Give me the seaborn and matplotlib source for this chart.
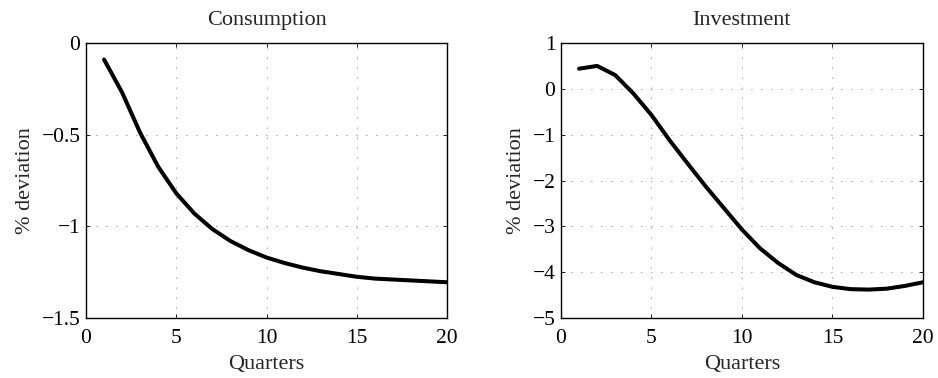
import matplotlib
matplotlib.use("Agg")
import matplotlib.pyplot as plt
import seaborn as sns
import pandas as pd

quarters = list(range(1, 21))
consumption = [-0.09, -0.27, -0.49, -0.675, -0.82, -0.93, -1.015, -1.08, -1.13, -1.17,
               -1.20, -1.225, -1.245, -1.26, -1.275, -1.285, -1.29, -1.295, -1.30, -1.305]
investment = [0.44, 0.50, 0.30, -0.10, -0.57, -1.12, -1.63, -2.13, -2.60, -3.07,
              -3.48, -3.80, -4.06, -4.22, -4.32, -4.37, -4.38, -4.36, -4.30, -4.22]
titles = ["Consumption", "Investment"]
xticks = [0, 5, 10, 15, 20]
yticks_c = [0, -0.5, -1, -1.5]
yticks_i = [1, 0, -1, -2, -3, -4, -5]

sns.set_theme(style="white")
plt.rcParams['font.family'] = ['Liberation Serif', 'DejaVu Serif']

fig = plt.figure(figsize=(9.38, 3.78), dpi=100)
ax1 = fig.add_axes([0.0917, 0.1587, 0.3849, 0.7275])
ax2 = fig.add_axes([0.598, 0.1587, 0.386, 0.7275])

df = pd.DataFrame({"Quarters": quarters, "Consumption": consumption, "Investment": investment})

def fmt(v):
    s = f"{v:g}"
    return s.replace("-", "\u2212")

for ax, col, yt, ylim in [(ax1, "Consumption", yticks_c, (-1.5, 0)),
                          (ax2, "Investment", yticks_i, (-5, 1))]:
    sns.lineplot(data=df, x="Quarters", y=col, ax=ax, color="black", linewidth=2.9)
    ax.set_xlim(0, 20)
    ax.set_ylim(*ylim)
    ax.set_xticks(xticks)
    ax.set_xticklabels([fmt(v) for v in xticks])
    ax.set_yticks(yt)
    ax.set_yticklabels([fmt(v) for v in yt])
    ax.grid(True, linestyle=(0, (1, 11)), color="#444444", linewidth=0.6)
    ax.tick_params(direction="in", length=3, width=0.6, labelsize=15.5,
                   top=True, right=True, bottom=True, left=True, colors="black")
    ax.tick_params(axis="x", pad=8)
    ax.tick_params(axis="y", pad=4)
    for sp in ax.spines.values():
        sp.set_visible(True)
        sp.set_color("black")
        sp.set_linewidth(1.0)
    ax.set_title(col, fontsize=16, pad=13)
    ax.set_xlabel("Quarters", fontsize=16, labelpad=5)
    ax.set_ylabel("% deviation", fontsize=16, labelpad=5)

fig.savefig("out.png", dpi=100)
